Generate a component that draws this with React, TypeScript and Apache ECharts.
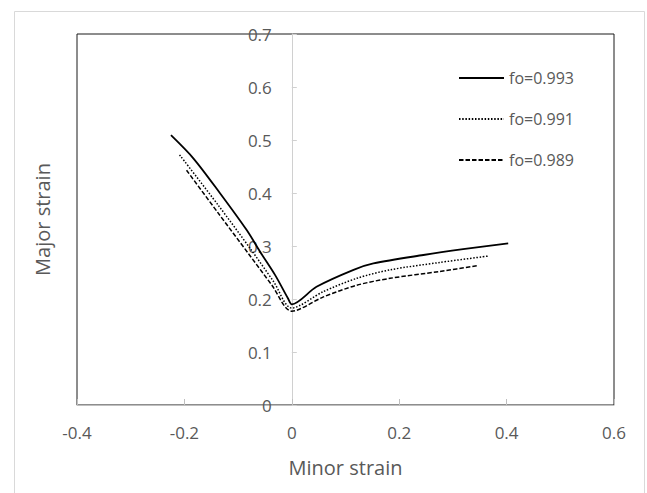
import React, { useEffect, useRef } from "react";
import * as echarts from "echarts";

const seriesNames = ["fo=0.993", "fo=0.991", "fo=0.989"];

const minor993 = [-0.225, -0.183, -0.134, -0.084, -0.059, -0.031, -0.007, 0, 0.046, 0.115, 0.152, 0.245, 0.319, 0.403];
const major993 = [0.509, 0.465, 0.4, 0.33, 0.289, 0.245, 0.201, 0.19, 0.223, 0.255, 0.267, 0.283, 0.294, 0.305];

const minor991 = [-0.209, -0.137, -0.078, -0.034, 0, 0.059, 0.121, 0.183, 0.276, 0.366];
const major991 = [0.472, 0.377, 0.296, 0.233, 0.183, 0.214, 0.239, 0.255, 0.269, 0.281];

const minor989 = [-0.196, -0.137, -0.081, -0.037, 0, 0.059, 0.121, 0.183, 0.276, 0.347];
const major989 = [0.443, 0.362, 0.286, 0.226, 0.177, 0.204, 0.226, 0.239, 0.252, 0.263];

const xTicks = { min: -0.4, max: 0.6, interval: 0.2 };
const yTicks = { min: 0, max: 0.7, interval: 0.1 };

const pairs = (xs: number[], ys: number[]) => xs.map((x, i) => [x, ys[i]]);

const FONT = "'Open Sans', 'Noto Sans', sans-serif";
const GRAY = "#595959";
const HIDDEN = { color: "rgba(0,0,0,0)", borderWidth: 0 };

export default function App() {
  const ref = useRef<HTMLDivElement>(null);
  useEffect(() => {
    if (!ref.current) return;
    const chart = echarts.init(ref.current, null, { renderer: "svg" });
    const fmt = (v: number) => {
      const r = Math.round(v * 10) / 10;
      return r === 0 ? "0" : String(r);
    };
    const gridLeft = 77;
    const gridRight = 33;
    const plotW = 647 - gridLeft - gridRight;
    const zeroOffset = ((0 - xTicks.min) / (xTicks.max - xTicks.min)) * plotW;
    chart.setOption({
      animation: false,
      backgroundColor: "#ffffff",
      textStyle: { fontFamily: FONT },
      grid: {
        left: gridLeft,
        right: gridRight,
        top: 34,
        bottom: 88,
        show: true,
        borderColor: "#1a1a1a",
        borderWidth: 1,
        containLabel: false,
        outerBoundsMode: "none",
      },
      graphic: [
        {
          type: "rect",
          shape: { x: 14.5, y: 11.5, width: 630, height: 490 },
          style: { fill: "none", stroke: "#d9d9d9", lineWidth: 1 },
          silent: true,
          z: -10,
        },
      ],
      legend: {
        orient: "vertical",
        left: 453,
        top: 65,
        itemWidth: 45,
        itemHeight: 14,
        itemGap: 25,
        textStyle: { fontSize: 16, lineHeight: 16, color: GRAY, fontFamily: FONT },
        data: seriesNames,
      },
      xAxis: {
        type: "value",
        min: xTicks.min,
        max: xTicks.max,
        interval: xTicks.interval,
        name: "Minor strain",
        nameLocation: "middle",
        nameGap: 52,
        nameTextStyle: { fontSize: 20, color: GRAY, fontFamily: FONT },
        axisLine: { onZero: false, lineStyle: { color: "#bfbfbf", width: 1 } },
        axisTick: { show: true, inside: true, length: 6, lineStyle: { color: "#bfbfbf" } },
        axisLabel: { fontSize: 17, color: GRAY, margin: 19, formatter: fmt, fontFamily: FONT },
        splitLine: { show: false },
      },
      yAxis: {
        type: "value",
        min: yTicks.min,
        max: yTicks.max,
        interval: yTicks.interval,
        offset: -zeroOffset,
        name: "Major strain",
        nameLocation: "middle",
        nameGap: 239,
        nameTextStyle: { fontSize: 20, color: GRAY, fontFamily: FONT },
        axisLine: { show: true, onZero: false, lineStyle: { color: "#d0d0d0", width: 1 } },
        axisTick: { show: true, inside: true, length: 5, lineStyle: { color: "#d0d0d0" } },
        axisLabel: { fontSize: 17, color: GRAY, margin: 20, formatter: fmt, fontFamily: FONT },
        splitLine: { show: false },
      },
      series: [
        {
          name: seriesNames[0],
          type: "line",
          data: pairs(minor993, major993),
          symbol: "circle",
          showSymbol: false,
          smooth: 0.3,
          lineStyle: { color: "#000", width: 1.8, type: "solid" },
          itemStyle: HIDDEN,
        },
        {
          name: seriesNames[1],
          type: "line",
          data: pairs(minor991, major991),
          symbol: "circle",
          showSymbol: false,
          smooth: 0.3,
          lineStyle: { color: "#000", width: 1.5, type: [1.5, 1.7] },
          itemStyle: HIDDEN,
        },
        {
          name: seriesNames[2],
          type: "line",
          data: pairs(minor989, major989),
          symbol: "circle",
          showSymbol: false,
          smooth: 0.3,
          lineStyle: { color: "#000", width: 1.5, type: [4.5, 2] },
          itemStyle: HIDDEN,
        },
      ],
    });
    return () => chart.dispose();
  }, []);
  return (
    <div
      ref={ref}
      style={{ position: "fixed", left: 0, top: 0, width: 647, height: 493 }}
    />
  );
}
